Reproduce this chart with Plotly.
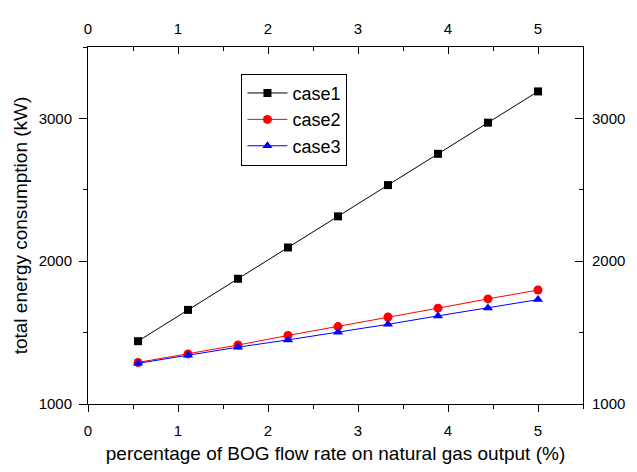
import plotly.graph_objects as go

bog_pct = [0.556, 1.111, 1.667, 2.222, 2.778, 3.333, 3.889, 4.444, 5.0]
case1 = [1440, 1659, 1877, 2096, 2314, 2533, 2752, 2970, 3189]
case2 = [1291, 1351, 1413, 1480, 1542, 1609, 1671, 1736, 1798]
case3 = [1285, 1342, 1398, 1449, 1502, 1558, 1617, 1673, 1731]
x_ticks = [0, 1, 2, 3, 4, 5]
y_ticks = [1000, 2000, 3000]

FONT = "Liberation Sans, Arial, sans-serif"

fig = go.Figure()
fig.add_trace(go.Scatter(x=bog_pct, y=case1, name="case1", mode="lines+markers",
                         line=dict(color="black", width=1),
                         marker=dict(symbol="square", size=8, color="black")))
fig.add_trace(go.Scatter(x=bog_pct, y=case2, name="case2", mode="lines+markers",
                         line=dict(color="red", width=1),
                         marker=dict(symbol="circle", size=9, color="red")))
fig.add_trace(go.Scatter(x=bog_pct, y=case3, name="case3", mode="lines+markers",
                         line=dict(color="blue", width=1),
                         marker=dict(symbol="triangle-up", size=9, color="blue")))
# invisible trace to anchor the mirrored top/right axes
fig.add_trace(go.Scatter(x=bog_pct, y=case1, xaxis="x2", yaxis="y2", mode="markers",
                         marker=dict(opacity=0), showlegend=False, hoverinfo="skip"))

axis_common = dict(showgrid=False, zeroline=False, showline=True, linecolor="black",
                   linewidth=1, tickcolor="black", tickwidth=1,
                   tickfont=dict(family=FONT, size=15, color="black"))

# page body has an 8px default margin, so the figure is sized to fit the 637x472 window
fig.update_layout(
    width=629, height=464,
    margin=dict(l=79, r=46, t=29, b=60),
    plot_bgcolor="white", paper_bgcolor="white",
    font=dict(family=FONT, color="black"),
    xaxis=dict(range=[0, 5.5], tickvals=x_ticks, ticks="outside", ticklen=7,
               ticklabelstandoff=6,
               minor=dict(dtick=0.5, tick0=0, ticks="outside", ticklen=4, tickcolor="black"),
               title=dict(text="percentage of BOG flow rate on natural gas output (%)",
                          font=dict(family=FONT, size=19), standoff=8),
               **axis_common),
    yaxis=dict(range=[1000, 3500], tickvals=y_ticks, ticks="outside", ticklen=8,
               ticklabelstandoff=4,
               minor=dict(dtick=500, tick0=1000, ticks="outside", ticklen=4, tickcolor="black"),
               title=dict(text="total energy consumption (kW)",
                          font=dict(family=FONT, size=19), standoff=5),
               **axis_common),
    xaxis2=dict(range=[0, 5.5], tickvals=x_ticks, ticks="inside", ticklen=7,
                ticklabelstandoff=6,
                minor=dict(dtick=0.5, tick0=0, ticks="inside", ticklen=4, tickcolor="black"),
                overlaying="x", side="top", anchor="y", **axis_common),
    yaxis2=dict(range=[1000, 3500], tickvals=y_ticks, ticks="inside", ticklen=8,
                ticklabelstandoff=5,
                minor=dict(dtick=500, tick0=1000, ticks="inside", ticklen=4, tickcolor="black"),
                overlaying="y", side="right", anchor="x", **axis_common),
    legend=dict(x=0.31, y=0.925, xanchor="left", yanchor="top",
                bordercolor="black", borderwidth=1, bgcolor="white",
                font=dict(family=FONT, size=18), tracegroupgap=0,
                itemwidth=40),
    showlegend=True,
)

fig.write_html("out.html")
